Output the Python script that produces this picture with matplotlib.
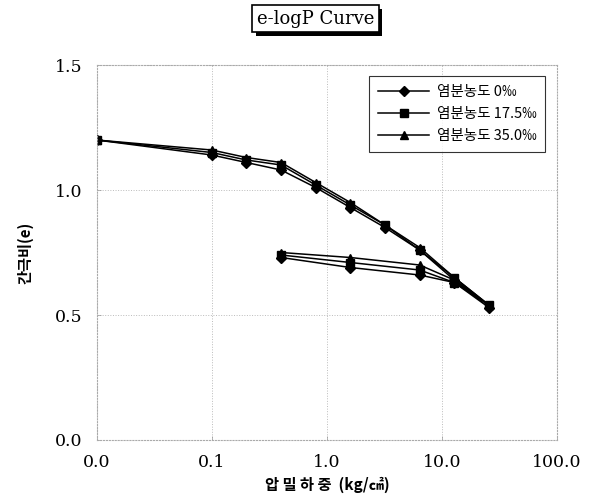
import numpy as np
import matplotlib
matplotlib.use('Agg')
import matplotlib.pyplot as plt
import matplotlib.patheffects as pe
from matplotlib.ticker import FixedLocator, FixedFormatter

KR = ['Noto Sans CJK KR', 'DejaVu Sans']

# loading / unloading steps (kg/cm2), 0 load drawn at 0.01
load_p = [0.01, 0.1, 0.2, 0.4, 0.8, 1.6, 3.2, 6.4, 12.8, 25.6]
unload_p = [12.8, 6.4, 1.6, 0.4]

e_load_0 = [1.20, 1.14, 1.11, 1.08, 1.01, 0.93, 0.85, 0.76, 0.64, 0.53]
e_load_175 = [1.20, 1.15, 1.12, 1.10, 1.02, 0.94, 0.86, 0.76, 0.65, 0.54]
e_load_350 = [1.20, 1.16, 1.13, 1.11, 1.03, 0.95, 0.86, 0.77, 0.65, 0.54]

e_unload_0 = [0.63, 0.66, 0.69, 0.73]
e_unload_175 = [0.63, 0.68, 0.71, 0.74]
e_unload_350 = [0.64, 0.70, 0.73, 0.75]

labels = ['염분농도 0‰', '염분농도 17.5‰', '염분농도 35.0‰']
markers = ['D', 's', '^']

x_ticks = [0.01, 0.1, 1, 10, 100]
x_ticklabels = ['0.0', '0.1', '1.0', '10.0', '100.0']
y_ticks = [0.0, 0.5, 1.0, 1.5]
y_ticklabels = ['0.0', '0.5', '1.0', '1.5']

fig = plt.figure(figsize=(5.9, 5.04), dpi=100)
ax = fig.add_axes([0.164, 0.127, 0.78, 0.744])

series = [(e_load_0, e_unload_0), (e_load_175, e_unload_175), (e_load_350, e_unload_350)]
for (el, eu), lab, m in zip(series, labels, markers):
    xs = load_p + unload_p
    ys = el + eu
    ax.plot(xs, ys, color='black', lw=1.1, marker=m, ms=5.5 if m != 'D' else 5,
            mfc='black', mec='black', label=lab)

ax.set_xscale('log')
ax.set_xlim(0.01, 100)
ax.set_ylim(0, 1.5)
ax.xaxis.set_major_locator(FixedLocator(x_ticks))
ax.xaxis.set_major_formatter(FixedFormatter(x_ticklabels))
ax.xaxis.set_minor_locator(FixedLocator([]))
ax.set_yticks(y_ticks)
ax.set_yticklabels(y_ticklabels)
ax.tick_params(axis='both', direction='in', length=3, width=0.5, color='#999999',
               labelsize=12.5, pad=10)
for lbl in ax.get_xticklabels() + ax.get_yticklabels():
    lbl.set_fontfamily('DejaVu Serif')
    lbl.set_fontweight('light')

ax.grid(True, color='#bbbbbb', ls=':', lw=0.7)
for s in ax.spines.values():
    s.set_color('#aaaaaa')
    s.set_linestyle(':')
    s.set_linewidth(0.8)

ax.set_xlabel('압 밀 하 중  (kg/㎠)', family=KR, fontsize=11, fontweight='bold', labelpad=4)
ax.set_ylabel('간극비(e)', family=KR, fontsize=11, fontweight='bold', labelpad=16)

leg = ax.legend(loc='upper right', bbox_to_anchor=(0.99, 0.99), prop={'family': KR, 'size': 10.5},
                frameon=True, fancybox=False, edgecolor='black', handlelength=3.5,
                borderpad=0.6, labelspacing=0.55, handletextpad=0.5)
leg.get_frame().set_linewidth(0.8)

t = fig.text(0.535, 0.963, 'e-logP Curve', ha='center', va='center', fontsize=13,
             family='DejaVu Serif',
             bbox=dict(boxstyle='square,pad=0.25', fc='white', ec='black', lw=1.2))
t.get_bbox_patch().set_path_effects([pe.SimplePatchShadow(offset=(2.5, -2.5), shadow_rgbFace='black', alpha=1.0),
                                     pe.Normal()])

fig.savefig('out.png', dpi=100)
